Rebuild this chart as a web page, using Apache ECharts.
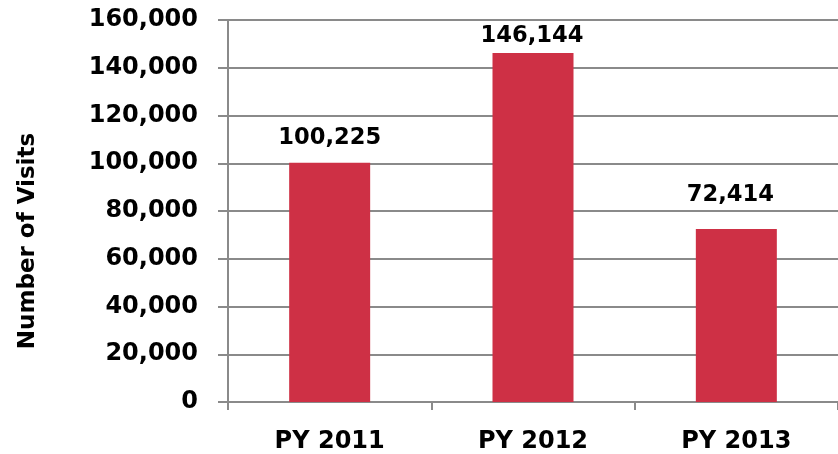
<!DOCTYPE html>
<html>
<head>
<meta charset="utf-8">
<script src="https://cdn.jsdelivr.net/npm/echarts@6/dist/echarts.min.js"></script>
<style>
  html, body { margin: 0; padding: 0; background: #fff; }
  #chart { width: 838px; height: 454px; }
</style>
</head>
<body>
<div id="chart"></div>
<script>
// Program-year visit totals
const categories = ['PY 2011', 'PY 2012', 'PY 2013'];
const visits = [100225, 146144, 72414];
const yTicks = [0, 20000, 40000, 60000, 80000, 100000, 120000, 140000, 160000];

// Hand-placed value labels: distance above each bar and horizontal nudge (px)
const labelDistance = [13, 5, 22];
const labelNudgeX = [0, -1, -6];

const FONT = '"DejaVu Sans", Verdana, sans-serif';
const GRID_GRAY = '#8a8a8a';
const fmt = v => v.toLocaleString('en-US');

const chart = echarts.init(document.getElementById('chart'));
chart.setOption({
  animation: false,
  grid: { left: 228, top: 20, width: 616, height: 382, containLabel: false },
  xAxis: {
    type: 'category',
    data: categories,
    axisLine: { lineStyle: { color: GRID_GRAY, width: 2 } },
    axisTick: { show: true, length: 8, alignWithLabel: false, lineStyle: { color: GRID_GRAY, width: 2 } },
    axisLabel: { margin: 28, color: '#000', fontFamily: FONT, fontWeight: 'bold', fontSize: 24 }
  },
  yAxis: {
    type: 'value',
    min: yTicks[0],
    max: yTicks[yTicks.length - 1],
    interval: yTicks[1] - yTicks[0],
    name: 'Number of Visits',
    nameLocation: 'middle',
    nameGap: 188,
    nameTextStyle: { color: '#000', fontFamily: FONT, fontWeight: 'bold', fontSize: 23, padding: [0, 60, 0, 0] },
    axisLine: { show: true, lineStyle: { color: GRID_GRAY, width: 2 } },
    axisTick: { show: true, length: 10, lineStyle: { color: GRID_GRAY, width: 2 } },
    splitLine: { lineStyle: { color: GRID_GRAY, width: 2 } },
    axisLabel: { margin: 30, color: '#000', fontFamily: FONT, fontWeight: 'bold', fontSize: 24, formatter: fmt }
  },
  series: [{
    type: 'bar',
    data: visits.map((v, i) => ({
      value: v,
      label: { distance: labelDistance[i], offset: [labelNudgeX[i], 0] }
    })),
    barWidth: 81,
    itemStyle: { color: '#CE3045' },
    label: {
      show: true, position: 'top',
      color: '#000', fontFamily: FONT, fontWeight: 'bold', fontSize: 22.6,
      formatter: p => fmt(p.value)
    }
  }]
});
</script>
</body>
</html>
